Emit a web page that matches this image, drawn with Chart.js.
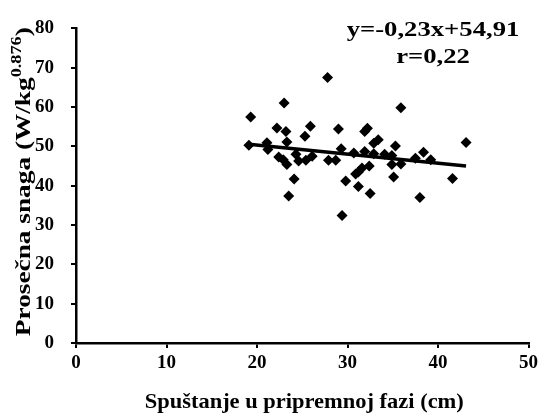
<!DOCTYPE html>
<html>
<head>
<meta charset="utf-8">
<script src="https://cdn.jsdelivr.net/npm/chart.js@4"></script>
<style>
    html, body { margin: 0; padding: 0; background: #fff; }
    #wrap { width: 542px; height: 420px; position: relative; }
</style>
</head>
<body>
<div id="wrap"><canvas id="mainChart"></canvas></div>
<script>
// Data
const xValues = [27.8, 23.0, 19.3, 22.2, 23.2, 25.9, 25.3, 29.0, 23.3, 19.1, 21.1, 21.2, 22.4, 22.9, 23.3,
                 24.3, 24.6, 25.4, 26.1, 27.9, 28.7, 29.3, 30.7, 24.1, 23.5, 29.8, 29.4, 35.9, 32.2, 31.9,
                 33.4, 32.9, 35.3, 43.1, 31.9, 32.9, 34.1, 34.9, 37.5, 38.4, 39.2, 32.4, 31.6, 31.2, 30.9,
                 34.9, 35.9, 35.1, 31.2, 32.5, 38.0, 41.6];
const yValues = [67.5, 61.0, 57.5, 54.7, 53.8, 55.1, 52.6, 54.4, 51.1, 50.3, 50.9, 49.2, 47.3, 46.6, 45.4,
                 48.0, 46.3, 46.5, 47.5, 46.5, 46.5, 49.4, 48.3, 41.7, 37.4, 41.2, 32.4, 59.8, 54.6, 53.8,
                 51.7, 50.8, 50.1, 51.0, 48.7, 48.1, 48.0, 47.7, 47.0, 48.5, 46.6, 45.0, 44.5, 43.5, 43.0,
                 45.4, 45.5, 42.2, 39.8, 38.0, 37.0, 41.8];

// Regression line end points
const trendX = [19.1, 43.1];
const trendY = [50.52, 44.99];

const xTicks = [0, 10, 20, 30, 40, 50];
const yTicks = [0, 10, 20, 30, 40, 50, 60, 70, 80];

const xTitle = 'Spuštanje u pripremnoj fazi (cm)';
const yTitleMain = 'Prosečna snaga (W/kg';
const yTitleSup = '0.876';
const yTitleEnd = ')';
const equationText = 'y=-0,23x+54,91';
const rText = 'r=0,22';

const serif = "'Liberation Serif', 'Times New Roman', serif";

// text in the picture is a bit wider than the font, so stretch it sideways
function wideText(ctx, text, x, y, font, stretch) {
    ctx.save();
    ctx.font = font;
    ctx.textAlign = 'center';
    ctx.textBaseline = 'middle';
    ctx.translate(x, y);
    ctx.scale(stretch, 1);
    ctx.fillText(text, 0, 0);
    ctx.restore();
}

// y title (with superscript), x title and equation
const extraText = {
    id: 'extraText',
    afterDraw(chart) {
        const ctx = chart.ctx;
        const area = chart.chartArea;
        ctx.save();
        ctx.fillStyle = '#000';

        const big = 'bold 21px ' + serif;
        const small = 'bold 14px ' + serif;
        ctx.font = big;
        const w1 = ctx.measureText(yTitleMain).width;
        const w3 = ctx.measureText(yTitleEnd).width;
        ctx.font = small;
        const w2 = ctx.measureText(yTitleSup).width;
        const total = w1 + w2 + w3;
        ctx.translate(23, (area.top + area.bottom) / 2 - 4);
        ctx.rotate(-Math.PI / 2);
        ctx.scale(1.3, 1);
        ctx.textBaseline = 'alphabetic';
        ctx.textAlign = 'left';
        let x = -total / 2;
        ctx.font = big;
        ctx.fillText(yTitleMain, x, 7);
        x += w1;
        ctx.font = small;
        ctx.fillText(yTitleSup, x, -2);
        x += w2;
        ctx.font = big;
        ctx.fillText(yTitleEnd, x, 7);
        ctx.restore();

        ctx.save();
        ctx.fillStyle = '#000';
        wideText(ctx, xTitle, (area.left + area.right) / 2 + 2, 403, 'bold 21px ' + serif, 1.07);
        wideText(ctx, equationText, 433, 31, 'bold 21px ' + serif, 1.27);
        wideText(ctx, rText, 433, 58, 'bold 21px ' + serif, 1.27);
        ctx.restore();
    }
};

const ctx = document.getElementById('mainChart').getContext('2d');
const mainChart = new Chart(ctx, {
    type: 'scatter',
    data: {
        datasets: [
            {
                label: 'data',
                data: xValues.map((x, i) => ({ x, y: yValues[i] })),
                pointStyle: 'rectRot',
                pointRadius: 5.5,
                backgroundColor: '#000',
                borderColor: '#000',
                borderWidth: 0
            },
            {
                label: 'trend',
                type: 'line',
                data: trendX.map((x, i) => ({ x, y: trendY[i] })),
                borderColor: '#000',
                borderWidth: 3.5,
                pointRadius: 0,
                fill: false
            }
        ]
    },
    options: {
        responsive: true,
        maintainAspectRatio: false,
        animation: false,
        layout: { padding: { top: 25, right: 12, left: 0, bottom: 0 } },
        plugins: {
            legend: { display: false },
            tooltip: { enabled: false }
        },
        scales: {
            x: {
                type: 'linear',
                min: 0,
                max: 50,
                afterBuildTicks: s => { s.ticks = xTicks.map(v => ({ value: v })); },
                afterFit: s => { s.height = 77; },
                ticks: {
                    color: '#000',
                    padding: 4,
                    font: { family: serif, size: 19, weight: 'bold' }
                },
                grid: { drawOnChartArea: false, drawTicks: true, tickLength: 5, color: '#000', lineWidth: 2 },
                border: { color: '#000', width: 2.5 }
            },
            y: {
                min: 0,
                max: 80,
                afterBuildTicks: s => { s.ticks = yTicks.map(v => ({ value: v })); },
                afterFit: s => { s.width = 76; },
                ticks: {
                    color: '#000',
                    padding: 17,
                    font: { family: serif, size: 19, weight: 'bold' }
                },
                grid: { drawOnChartArea: false, drawTicks: true, tickLength: 5, color: '#000', lineWidth: 2 },
                border: { color: '#000', width: 2.5 }
            }
        }
    },
    plugins: [extraText]
});
</script>
</body>
</html>
